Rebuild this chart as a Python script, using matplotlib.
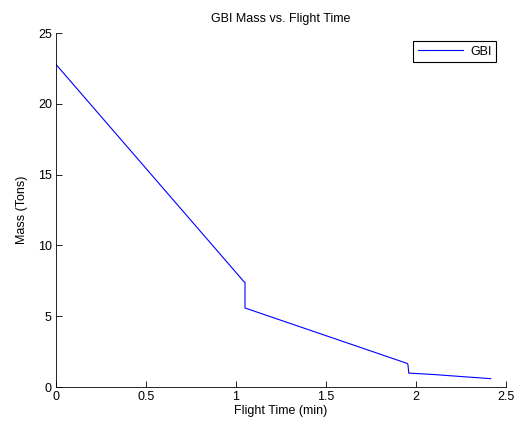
import matplotlib
matplotlib.use("Agg")
import matplotlib.pyplot as plt

# flight profile (time in min, mass in tons)
flight_time = [0.0, 1.04, 1.046, 1.05, 1.05, 1.95, 1.955, 1.96, 2.10, 2.25, 2.415]
mass = [22.78, 7.50, 7.42, 7.40, 5.58, 1.67, 1.60, 0.98, 0.88, 0.74, 0.59]

x_ticks = [0, 0.5, 1, 1.5, 2, 2.5]
y_ticks = [0, 5, 10, 15, 20, 25]

plt.rcParams['font.family'] = ['Liberation Sans', 'DejaVu Sans']
plt.rcParams['font.size'] = 9

fig = plt.figure(figsize=(5.19, 4.24), dpi=100)
ax = fig.add_axes([56 / 519, 1 - 387 / 424, 450 / 519, 354 / 424])

ax.plot(flight_time, mass, color='#0000ff', linewidth=0.8, label='GBI')

ax.set_xlim(0, 2.5)
ax.set_ylim(0, 25)
ax.set_xticks(x_ticks)
ax.set_xticklabels([f"{t:g}" for t in x_ticks])
ax.set_yticks(y_ticks)
ax.tick_params(direction='in', length=4, width=0.6, pad=3, labelsize=9)
for side in ('top', 'right'):
    ax.spines[side].set_visible(False)
for side in ('left', 'bottom'):
    ax.spines[side].set_linewidth(0.6)

ax.set_title('GBI Mass vs. Flight Time', fontsize=9, pad=8)
ax.set_xlabel('Flight Time (min)', fontsize=9, labelpad=1)
ax.set_ylabel('Mass (Tons)', fontsize=9, labelpad=7)

leg = ax.legend(loc='upper right', bbox_to_anchor=(0.978, 0.977), borderaxespad=0,
                fancybox=False, framealpha=1, edgecolor='black', handlelength=3.6,
                borderpad=0.35, handletextpad=0.6, fontsize=9)
leg.get_frame().set_linewidth(0.8)

fig.savefig('out.png', dpi=100)
